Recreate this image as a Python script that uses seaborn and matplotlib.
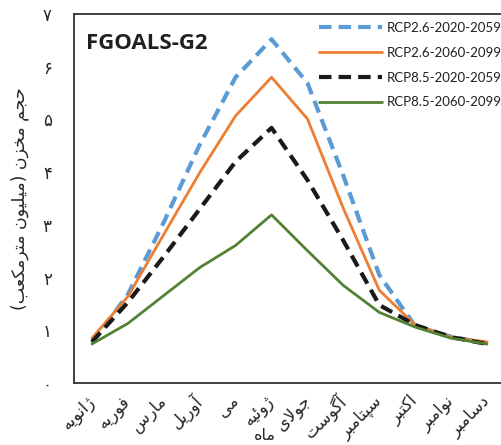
import numpy as np
import pandas as pd
import matplotlib
matplotlib.use("Agg")
import matplotlib.pyplot as plt
import seaborn as sns


# Data
months = ["ژانویه", "فوریه", "مارس", "آوریل", "می", "ژوئیه",
          "جولای", "آگوست", "سپتامبر", "اکتبر", "نوامبر", "دسامبر"]
rcp26_2020_2059 = [0.76, 1.68, 3.05, 4.52, 5.80, 6.52, 5.69, 3.93, 2.05, 1.08, 0.88, 0.75]
rcp26_2060_2099 = [0.85, 1.64, 2.82, 3.99, 5.07, 5.80, 5.01, 3.31, 1.76, 1.10, 0.87, 0.78]
rcp85_2020_2059 = [0.78, 1.53, 2.40, 3.30, 4.20, 4.84, 3.85, 2.70, 1.48, 1.10, 0.87, 0.74]
rcp85_2060_2099 = [0.74, 1.13, 1.66, 2.19, 2.61, 3.19, 2.51, 1.85, 1.34, 1.06, 0.85, 0.74]
series_names = ["RCP2.6-2020-2059", "RCP2.6-2060-2099", "RCP8.5-2020-2059", "RCP8.5-2060-2099"]
y_ticks = [0, 1, 2, 3, 4, 5, 6, 7]
y_label = "حجم مخزن (میلیون مترمکعب)"
x_label = "ماه"
model_name = "FGOALS-G2"


# small persian shaper (matplotlib has no bidi / arabic shaping)
FORMS = {
    "ا": (0xFE8D, 0xFE8E, None, None), "آ": (0xFE81, 0xFE82, None, None),
    "د": (0xFEA9, 0xFEAA, None, None), "ر": (0xFEAD, 0xFEAE, None, None),
    "ز": (0xFEAF, 0xFEB0, None, None), "ژ": (0xFB8A, 0xFB8B, None, None),
    "و": (0xFEED, 0xFEEE, None, None),
    "ب": (0xFE8F, 0xFE90, 0xFE91, 0xFE92), "پ": (0xFB56, 0xFB57, 0xFB58, 0xFB59),
    "ت": (0xFE95, 0xFE96, 0xFE97, 0xFE98), "ج": (0xFE9D, 0xFE9E, 0xFE9F, 0xFEA0),
    "ح": (0xFEA1, 0xFEA2, 0xFEA3, 0xFEA4), "خ": (0xFEA5, 0xFEA6, 0xFEA7, 0xFEA8),
    "س": (0xFEB1, 0xFEB2, 0xFEB3, 0xFEB4), "ع": (0xFEC9, 0xFECA, 0xFECB, 0xFECC),
    "ف": (0xFED1, 0xFED2, 0xFED3, 0xFED4), "ک": (0xFB8E, 0xFB8F, 0xFB90, 0xFB91),
    "گ": (0xFB92, 0xFB93, 0xFB94, 0xFB95), "ل": (0xFEDD, 0xFEDE, 0xFEDF, 0xFEE0),
    "م": (0xFEE1, 0xFEE2, 0xFEE3, 0xFEE4), "ن": (0xFEE5, 0xFEE6, 0xFEE7, 0xFEE8),
    "ه": (0xFEE9, 0xFEEA, 0xFEEB, 0xFEEC), "ی": (0xFBFC, 0xFBFD, 0xFBFE, 0xFBFF),
    "ئ": (0xFE89, 0xFE8A, 0xFE8B, 0xFE8C),
}
MIRROR = {"(": ")", ")": "("}


def dual(c):
    return c in FORMS and FORMS[c][2] is not None


def fa(text):
    out = []
    i = 0
    n = len(text)
    while i < n:
        c = text[i]
        if c not in FORMS:
            out.append(MIRROR.get(c, c))
            i += 1
            continue
        prev_joins = i > 0 and dual(text[i - 1])
        if c == "ل" and i + 1 < n and text[i + 1] == "ا":
            out.append(chr(0xFEFC if prev_joins else 0xFEFB))
            i += 2
            continue
        next_joins = dual(c) and i + 1 < n and text[i + 1] in FORMS
        iso, fin, ini, med = FORMS[c]
        if prev_joins and next_joins:
            code = med
        elif prev_joins:
            code = fin
        elif next_joins:
            code = ini
        else:
            code = iso
        out.append(chr(code))
        i += 1
    return "".join(out[::-1])


def fa_digits(v):
    return "".join(chr(0x06F0 + int(d)) for d in str(v))


df = pd.DataFrame({
    "month": np.tile(np.arange(len(months)), 4),
    "volume": rcp26_2020_2059 + rcp26_2060_2099 + rcp85_2020_2059 + rcp85_2060_2099,
    "scenario": np.repeat(series_names, len(months)),
})

styles = {
    "RCP2.6-2020-2059": dict(color="#5B9BD5", linewidth=3.0, linestyle=(0, (3.0, 1.7))),
    "RCP2.6-2060-2099": dict(color="#ED7D31", linewidth=2.0, linestyle="-"),
    "RCP8.5-2020-2059": dict(color="#1A1A1A", linewidth=3.0, linestyle=(0, (3.0, 1.7))),
    "RCP8.5-2060-2099": dict(color="#548235", linewidth=2.0, linestyle="-"),
}

sns.set_style("white")
plt.rcParams["font.family"] = ["DejaVu Sans"]

fig = plt.figure(figsize=(5.02, 4.45), dpi=100)
ax = fig.add_axes([74 / 502, 1 - 383 / 445, (505 - 74) / 502, (383 - 14) / 445])

for name in series_names:
    sns.lineplot(data=df[df["scenario"] == name], x="month", y="volume",
                 ax=ax, label=name, **styles[name])

ax.set_xlim(-0.5, 11.5)
ax.set_ylim(0, 7)
ax.set_yticks(y_ticks)
ax.set_yticklabels([fa_digits(v) for v in y_ticks], fontsize=12)
ax.set_xticks(range(len(months)))
ax.set_xticklabels([fa(m) for m in months], rotation=45, ha="right", va="center",
                   rotation_mode="anchor", fontsize=12)
ax.tick_params(axis="y", length=0, pad=16)
ax.tick_params(axis="x", length=0, pad=11)

ax.set_xlabel(fa(x_label), fontsize=11.5, va="center")
ax.xaxis.set_label_coords((265 - 74) / 431, (383 - 436) / 369)
ax.set_ylabel(fa(y_label), fontsize=12.5, labelpad=10)

for side in ["left", "bottom", "top"]:
    ax.spines[side].set_visible(True)
    ax.spines[side].set_color("#333333")
    ax.spines[side].set_linewidth(1.3)
ax.spines["right"].set_visible(False)

ax.text(0.028, 0.948, model_name, transform=ax.transAxes, fontsize=16,
        fontweight="bold", family="Open Sans", va="top", ha="left", color="#231F20")

leg = ax.legend(loc="upper left", bbox_to_anchor=(319 / 502, 1 - 22 / 445),
                bbox_transform=fig.transFigure, frameon=False, fontsize=9.5,
                handlelength=4.75, handletextpad=0.35, labelspacing=0.97,
                borderpad=0, borderaxespad=0)
for t in leg.get_texts():
    t.set_family("Lato")
    t.set_color("#231F20")

fig.savefig("out.png", dpi=100)
